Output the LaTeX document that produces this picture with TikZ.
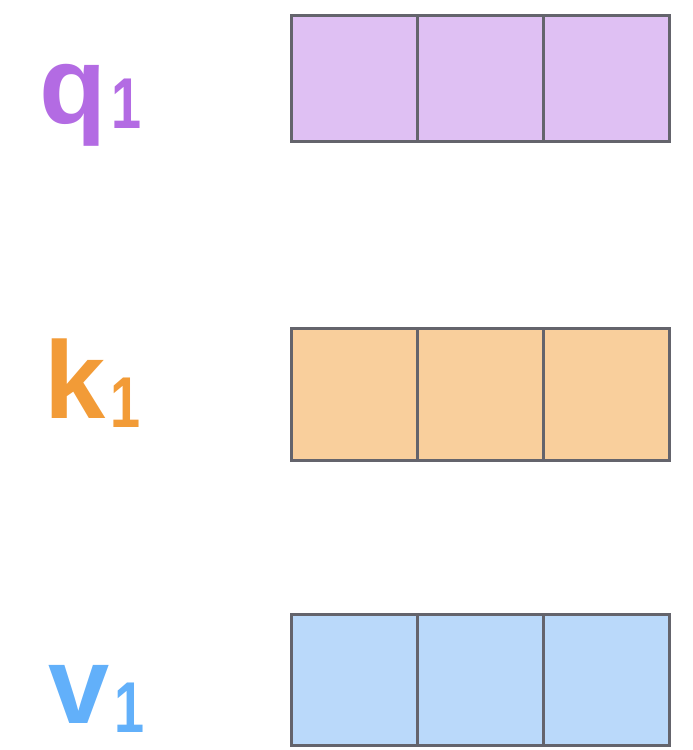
\documentclass[tikz,border=0pt]{standalone}
\usepackage{fontspec}
\setmainfont{Liberation Sans}
\definecolor{qtxt}{HTML}{B36BE3}
\definecolor{qfill}{HTML}{DFC0F3}
\definecolor{ktxt}{HTML}{F29B37}
\definecolor{kfill}{HTML}{F9CF9C}
\definecolor{vtxt}{HTML}{62B0FA}
\definecolor{vfill}{HTML}{BAD9FA}
\definecolor{edge}{HTML}{64646C}
\tikzset{
  cell/.style={draw=edge, line width=3pt, minimum width=126pt, inner sep=0pt, outer sep=0pt},
  lbl/.style={anchor=base west, inner sep=0pt, font=\bfseries\fontsize{110}{110}\selectfont},
}
\newcommand{\subone}[1]{\kern5pt\raisebox{#1}{\scalebox{0.75}[1]{\fontsize{72}{72}\selectfont 1}}}
\begin{document}
\begin{tikzpicture}[x=1pt,y=-1pt]
\useasboundingbox (0,0) rectangle (693,750);
\foreach \i in {1,2,3}{
  \node[cell, fill=qfill, minimum height=126pt] (q\i) at ({291+126*(\i-0.5)},78) {};
  \node[cell, fill=kfill, minimum height=132pt] (k\i) at ({291+126*(\i-0.5)},394) {};
  \node[cell, fill=vfill, minimum height=131pt] (v\i) at ({291+126*(\i-0.5)},679.5) {};
}
\node[lbl, text=qtxt] (ql) at (39,123) {q\subone{-5pt}};
\node[lbl, text=ktxt] (kl) at (44,418) {k\subone{-9pt}};
\node[lbl, text=vtxt] (vl) at (48,723) {v\subone{-9pt}};
\end{tikzpicture}
\end{document}
